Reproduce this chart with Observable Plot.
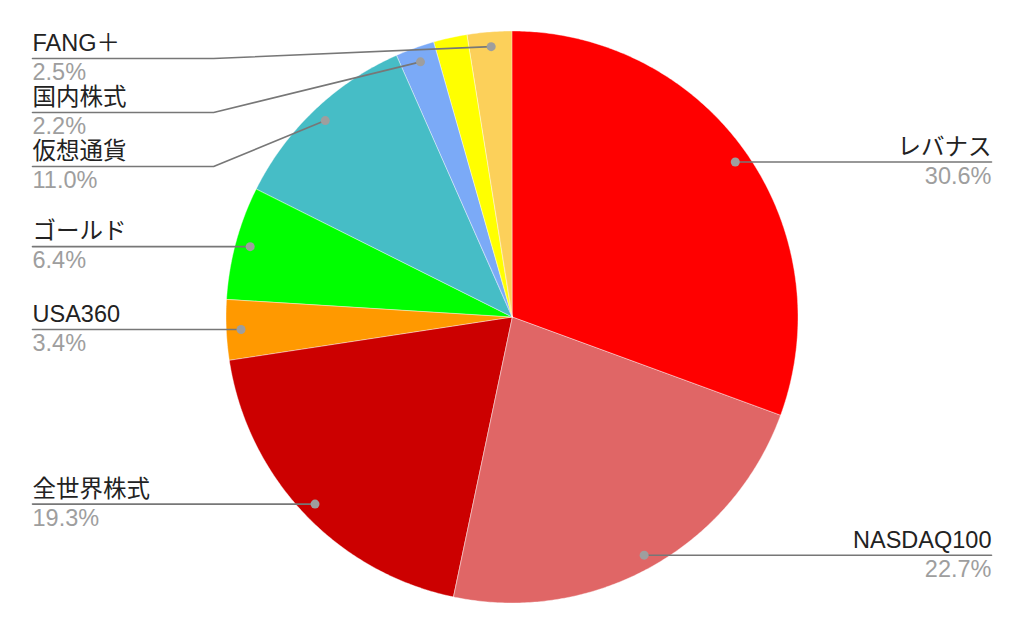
<!DOCTYPE html>
<html><head><meta charset="utf-8">
<script src="https://cdn.jsdelivr.net/npm/d3@7"></script>
<script src="https://cdn.jsdelivr.net/npm/@observablehq/plot@0.6"></script>
<style>
body{margin:0;background:#fff}
#chart svg{display:block;font-family:"Liberation Sans",Arial,"Noto Sans CJK JP",sans-serif}
</style>
</head><body><div id="chart"></div>
<script>
// ---- data ----
const names = ["レバナス","NASDAQ100","全世界株式","USA360","ゴールド","仮想通貨","国内株式","その他","FANG＋"];
const values = [30.6,22.7,19.3,3.4,6.4,11.0,2.2,1.9,2.5];
const colors = ["#ff0000","#e06666","#cc0000","#ff9900","#00ff00","#46bdc6","#7baaf7","#ffff00","#fcd05a"];

// ---- layout ----
const W = 1024, H = 634, R = 286, CX = 512, CY = 317;
const xr = CX / R, yr = CY / R;
const total = d3.sum(values);
const minLabel = 2.0;            // slices below this share get no label
const gap = 54 / R;              // vertical spacing between leader lines
const topLine = (CY - 58) / R;   // highest leader line
const textXL = (32 - CX) / R, textXR = (991 - CX) / R;
const elbow = 1.045, dotR = 0.95;

let acc = 0;
const slices = values.map((v, i) => {
  const a0 = acc / total * 2 * Math.PI; acc += v;
  const a1 = acc / total * 2 * Math.PI;
  return {name: names[i], value: v, a0, a1, am: (a0 + a1) / 2};
});

const arcPts = [];
for (const s of slices) {
  const n = Math.max(2, Math.ceil((s.a1 - s.a0) / (Math.PI / 360)));
  for (let k = 0; k <= n; k++) {
    const a = s.a0 + (s.a1 - s.a0) * k / n;
    arcPts.push({name: s.name, x1: Math.sin(a), y1: Math.cos(a), x2: 0, y2: 0});
  }
}

const labels = slices.filter(s => s.value >= minLabel).map(s => ({
  name: s.name, pct: s.value.toFixed(1) + "%",
  dx: dotR * Math.sin(s.am), dy: dotR * Math.cos(s.am),
  side: Math.sin(s.am) >= 0 ? "R" : "L"
}));
for (const side of ["L", "R"]) {
  const ls = labels.filter(l => l.side === side).sort((a, b) => b.dy - a.dy);
  let prev = Infinity;
  for (const l of ls) {
    l.ly = Math.min(l.dy, topLine, prev - gap);
    prev = l.ly;
    l.tx = side === "L" ? textXL : textXR;
  }
}
const leaderPts = [];
for (const l of labels) {
  const sgn = l.side === "L" ? -1 : 1;
  leaderPts.push({name: l.name, x: l.tx, y: l.ly});
  if (Math.abs(l.ly - l.dy) > 1e-6) leaderPts.push({name: l.name, x: sgn * elbow, y: l.ly});
  leaderPts.push({name: l.name, x: l.dx, y: l.dy});
}

const font = {fontSize: 23.5};
const chart = Plot.plot({
  width: W, height: H, margin: 0,
  x: {domain: [-xr, xr], axis: null},
  y: {domain: [-yr, yr], axis: null},
  color: {domain: names, range: colors},
  marks: [
    Plot.area(arcPts, {x1: "x1", y1: "y1", x2: "x2", y2: "y2", z: "name", fill: "name", stroke: "white", strokeWidth: 0.4}),
    Plot.line(leaderPts, {x: "x", y: "y", z: "name", stroke: "#777", strokeWidth: 1.6}),
    Plot.dot(labels, {x: "dx", y: "dy", r: 4.5, fill: "#9e9e9e"}),
    Plot.text(labels.filter(l => l.side === "L"), {x: "tx", y: "ly", text: "name", textAnchor: "start", dy: -15, fill: "#222", ...font}),
    Plot.text(labels.filter(l => l.side === "L"), {x: "tx", y: "ly", text: "pct", textAnchor: "start", dy: 14, fill: "#9e9e9e", ...font}),
    Plot.text(labels.filter(l => l.side === "R"), {x: "tx", y: "ly", text: "name", textAnchor: "end", dy: -15, fill: "#222", ...font}),
    Plot.text(labels.filter(l => l.side === "R"), {x: "tx", y: "ly", text: "pct", textAnchor: "end", dy: 14, fill: "#9e9e9e", ...font})
  ]
});
document.getElementById("chart").append(chart);
</script>
</body></html>
